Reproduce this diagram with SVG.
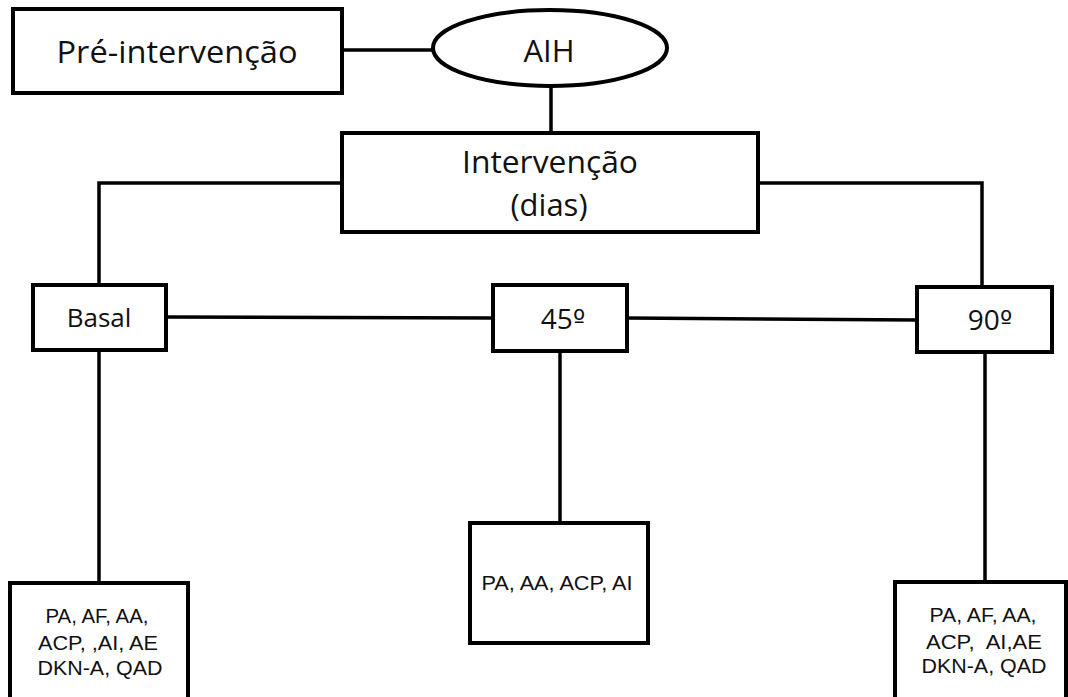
<svg xmlns="http://www.w3.org/2000/svg" width="1068" height="697" viewBox="0 0 1068 697">
<style>
.box{fill:#fff;stroke:#000;stroke-width:4;stroke-linejoin:miter}
.ln{fill:none;stroke:#000;stroke-width:3.5}
.t{font-family:"Open Sans","Noto Sans",sans-serif;fill:#111;text-anchor:middle}
.o{font-family:"DejaVu Sans",sans-serif}
.s{font-family:"Liberation Sans",Arial,sans-serif;fill:#111;text-anchor:middle;font-size:20px}
</style>
<rect width="1068" height="697" fill="#fff"/>
<g id="connectors">
<path class="ln" d="M342,50 H433"/>
<path class="ln" d="M551,85 V133"/>
<path class="ln" d="M342,183 H99 V285"/>
<path class="ln" d="M758,183 H982 V287"/>
<path class="ln" d="M166,317 L493,318"/>
<path class="ln" d="M627,318 L917,320"/>
<path class="ln" d="M99,350 V583"/>
<path class="ln" d="M560,351 V523"/>
<path class="ln" d="M985,352 V582"/>
</g>
<g id="pre">
<rect class="box" x="13" y="9" width="329" height="84"/>
<text class="t" x="177" y="63" font-size="31" textLength="241" lengthAdjust="spacingAndGlyphs">Pré-intervenção</text>
</g>
<g id="aih">
<ellipse class="box" cx="550" cy="48" rx="117" ry="38"/>
<text class="t" x="549" y="62" font-size="31">AIH</text>
</g>
<g id="intervencao">
<rect class="box" x="342" y="133" width="416" height="99"/>
<text class="t" x="550" y="173" font-size="31" textLength="176" lengthAdjust="spacingAndGlyphs">Intervenção</text>
<text class="t" x="549" y="216" font-size="31">(dias)</text>
</g>
<g id="basal">
<rect class="box" x="33" y="285" width="133" height="65"/>
<text class="t" x="99" y="327" font-size="26">Basal</text>
</g>
<g id="d45">
<rect class="box" x="493" y="285" width="134" height="66"/>
<text class="t" x="563" y="329" font-size="28">45<tspan class="o" font-size="26">º</tspan></text>
</g>
<g id="d90">
<rect class="box" x="917" y="287" width="135" height="65"/>
<text class="t" x="990" y="330" font-size="28">90<tspan class="o" font-size="26">º</tspan></text>
</g>
<g id="basal-out">
<rect class="box" x="10" y="583" width="178" height="120"/>
<text class="s" x="97" y="623" textLength="103" lengthAdjust="spacingAndGlyphs">PA, AF, AA,</text>
<text class="s" x="98" y="650" textLength="120" lengthAdjust="spacingAndGlyphs">ACP, ,AI, AE</text>
<text class="s" x="100" y="675" textLength="125" lengthAdjust="spacingAndGlyphs">DKN-A, QAD</text>
</g>
<g id="d45-out">
<rect class="box" x="470" y="523" width="178" height="120"/>
<text class="s" x="557" y="590" textLength="151" lengthAdjust="spacingAndGlyphs">PA, AA, ACP, AI</text>
</g>
<g id="d90-out">
<rect class="box" x="895" y="582" width="171" height="120"/>
<text class="s" x="983" y="622" textLength="107" lengthAdjust="spacingAndGlyphs">PA, AF, AA,</text>
<text class="s" x="984" y="649" textLength="116" lengthAdjust="spacingAndGlyphs" xml:space="preserve">ACP,  AI,AE</text>
<text class="s" x="984" y="673" textLength="125" lengthAdjust="spacingAndGlyphs">DKN-A, QAD</text>
</g>
</svg>
